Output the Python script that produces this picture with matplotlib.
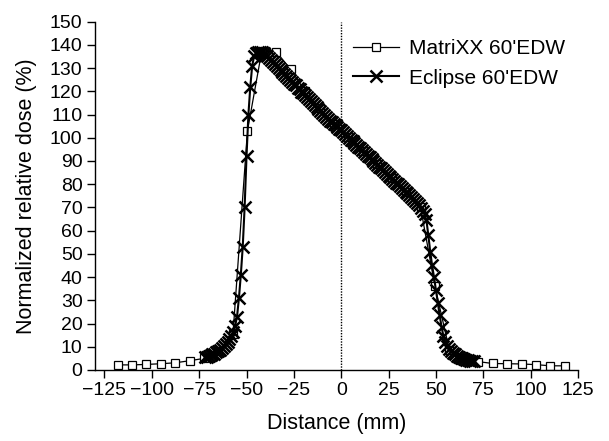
import matplotlib
matplotlib.use("Agg")
import matplotlib.pyplot as plt

plt.rcParams['font.family'] = ['Liberation Sans', 'DejaVu Sans']

# MatriXX detector positions (mm) and doses (%)
matrixx_x = [-118.1, -110.5, -102.9, -95.25, -87.6, -80.0, -72.4, -64.8, -57.15, -49.5,
             -41.9, -34.3, -26.7, -19.05, -11.4, -3.8, 3.8, 11.4, 19.05, 26.7, 34.3,
             41.9, 49.5, 57.15, 64.8, 72.4, 80.0, 87.6, 95.25, 102.9, 110.5, 118.1]
matrixx_y = [2.2, 2.2, 2.4, 2.7, 3.1, 4.0, 5.0, 8.0, 15.5, 103.0,
             137.5, 137.0, 129.5, 120.0, 113.0, 106.0, 100.5, 94.5, 88.5, 82.5, 76.5,
             70.0, 36.0, 8.5, 5.0, 3.6, 2.8, 2.7, 2.6, 2.3, 1.8, 1.8]

# Eclipse calculated profile (mm, %)
eclipse_x = list(range(-72, 71))
eclipse_y = [
    5.5, 5.8, 6.0, 6.3, 6.7, 7.1, 7.6, 8.2, 8.8, 9.5,          # -72 .. -63
    10.2, 11.0, 12.0, 13.2, 14.6, 16.5, 19.0, 23.0, 31.0, 41.0,  # -62 .. -53
    53.0, 70.0, 92.0, 110.0, 122.0, 131.0, 135.0, 136.5, 137.0, 137.0,  # -52 .. -43
    136.7, 136.3, 135.8, 135.0, 134.3, 133.5, 132.6, 131.8, 131.0, 130.1,  # -42 .. -33
    129.3, 128.4, 127.6, 126.7, 125.9, 125.0, 124.2, 123.3, 122.5, 121.6,  # -32 .. -23
    120.8, 119.9, 119.1, 118.2, 117.4, 116.5, 115.7, 114.8, 114.0, 113.1,  # -22 .. -13
    112.3, 111.4, 110.6, 109.8, 109.0, 108.2, 107.4, 106.7, 106.0, 105.3,  # -12 .. -3
    104.6, 103.9, 103.2, 102.4, 101.6, 100.8, 100.0, 99.2, 98.5, 97.7,     # -2 .. 7
    96.9, 96.1, 95.4, 94.6, 93.8, 93.0, 92.3, 91.5, 90.7, 89.9,            # 8 .. 17
    89.2, 88.4, 87.6, 86.8, 86.1, 85.3, 84.5, 83.7, 83.0, 82.2,            # 18 .. 27
    81.4, 80.6, 79.9, 79.1, 78.3, 77.5, 76.8, 76.0, 75.2, 74.4,            # 28 .. 37
    73.6, 72.8, 71.9, 70.9, 69.8, 68.6, 67.0, 64.5, 58.0, 51.0,            # 38 .. 47
    45.0, 40.0, 34.5, 29.0, 23.5, 18.5, 14.5, 12.0, 10.3, 9.0,             # 48 .. 57
    8.0, 7.3, 6.7, 6.2, 5.7, 5.3, 5.0, 4.7, 4.4, 4.2,                      # 58 .. 67
    4.0, 3.8, 3.7,                                                          # 68 .. 70
]

x_ticks = [-125, -100, -75, -50, -25, 0, 25, 50, 75, 100, 125]
y_ticks = list(range(0, 151, 10))

fig = plt.figure(figsize=(6.09, 4.41), dpi=100)
ax = fig.add_axes([0.156, 0.161, 0.793, 0.790])

ax.axvline(0, color='black', linestyle=(0, (1, 1)), linewidth=1.0, zorder=1)

ax.plot(matrixx_x, matrixx_y, color='black', linewidth=0.9, marker='s',
        markersize=6, markerfacecolor='white', markeredgecolor='black',
        markeredgewidth=0.9, label="MatriXX 60'EDW", zorder=2)
ax.plot(eclipse_x, eclipse_y, color='black', linewidth=1.5, marker='x',
        markersize=8, markeredgewidth=1.8, label="Eclipse 60'EDW", zorder=3)

ax.set_xlim(-130, 125)
ax.set_ylim(0, 150)
ax.set_xticks(x_ticks)
ax.set_yticks(y_ticks)
ax.tick_params(direction='out', length=6, width=1, labelsize=14, pad=3)
for s in ['top', 'right']:
    ax.spines[s].set_visible(False)
for s in ['left', 'bottom']:
    ax.spines[s].set_linewidth(1.0)

ax.set_xlabel('Distance (mm)', fontsize=15.5, labelpad=10)
ax.set_ylabel('Normalized relative dose (%)', fontsize=15.5, labelpad=9)

leg = ax.legend(loc='upper right', bbox_to_anchor=(1.0, 0.985), frameon=False,
                fontsize=15, handlelength=2.2, handletextpad=0.5,
                labelspacing=0.5, borderaxespad=0.2)

fig.savefig('out.png', dpi=100)
